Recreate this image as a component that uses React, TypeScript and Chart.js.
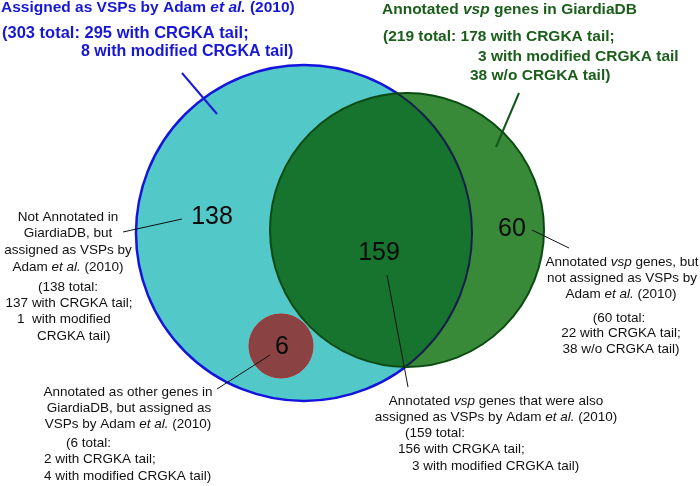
import React, { useEffect, useRef } from 'react';
import { Chart, registerables } from 'chart.js';

Chart.register(...registerables);

// ---------- DATA ----------
const setNames = ['Assigned as VSPs by Adam et al. (2010)', 'Annotated vsp genes in GiardiaDB', 'Annotated as other genes in GiardiaDB'];
const regionNames = ['Adam only', 'Both', 'GiardiaDB only', 'Other genes'];
const regionCounts = [138, 159, 60, 6];

const blueTitleLines = [
  'Assigned as VSPs by Adam *et al.* (2010)',
  '(303 total: 295 with CRGKA tail;',
  '8 with modified CRGKA tail)',
];
const greenTitleLines = [
  'Annotated *vsp* genes in GiardiaDB',
  '(219 total: 178 with CRGKA tail;',
  '3 with modified CRGKA tail',
  '38 w/o CRGKA tail)',
];
const adamOnlyLines = [
  'Not Annotated in',
  'GiardiaDB, but',
  'assigned as VSPs by',
  'Adam *et al.* (2010)',
  '(138 total:',
  '137 with CRGKA tail;',
  '1  with modified',
  'CRGKA tail)',
];
const giardiaOnlyLines = [
  'Annotated *vsp* genes, but',
  'not assigned as VSPs by',
  'Adam *et al.* (2010)',
  '(60 total:',
  '22 with CRGKA tail;',
  '38 w/o CRGKA tail)',
];
const otherGenesLines = [
  'Annotated as other genes in',
  'GiardiaDB, but assigned as',
  'VSPs by Adam *et al.* (2010)',
  '(6 total:',
  '2 with CRGKA tail;',
  '4 with modified CRGKA tail)',
];
const bothLines = [
  'Annotated *vsp* genes that were also',
  'assigned as VSPs by Adam *et al.* (2010)',
  '(159 total:',
  '156 with CRGKA tail;',
  '3 with modified CRGKA tail)',
];

// ---------- LAYOUT (axis units: 0..700 x, 0..486 y) ----------
const circles = [
  { x: 304, y: 233, r: 168 }, // Adam set
  { x: 407, y: 230, r: 137 }, // GiardiaDB set
  { x: 281, y: 346, r: 32 },  // other genes
];
const countPos = [
  { x: 212, y: 217 },
  { x: 379, y: 253 },
  { x: 512, y: 229 },
  { x: 282, y: 347 },
];
type Ln = { x: number; y: number; a: CanvasTextAlign; s?: number };
const blueTitlePos: Ln[] = [
  { x: 1, y: 8, a: 'left' }, { x: 2, y: 33, a: 'left', s: 16.5 }, { x: 81, y: 52, a: 'left', s: 16 },
];
const greenTitlePos: Ln[] = [
  { x: 382, y: 10, a: 'left' }, { x: 383, y: 37, a: 'left' }, { x: 478, y: 57, a: 'left' }, { x: 470, y: 76, a: 'left' },
];
const adamOnlyPos: Ln[] = [
  { x: 68, y: 217, a: 'center' }, { x: 68, y: 233, a: 'center' }, { x: 68, y: 250, a: 'center' }, { x: 68, y: 267, a: 'center' },
  { x: 68, y: 287, a: 'center' }, { x: 69, y: 303, a: 'center' }, { x: 17, y: 319, a: 'left' }, { x: 37, y: 336, a: 'left' },
];
const giardiaOnlyPos: Ln[] = [
  { x: 622, y: 262, a: 'center' }, { x: 622, y: 278, a: 'center' }, { x: 621, y: 294, a: 'center' },
  { x: 619, y: 318, a: 'center' }, { x: 621, y: 333, a: 'center' }, { x: 621, y: 349, a: 'center' },
];
const otherGenesPos: Ln[] = [
  { x: 128, y: 392, a: 'center' }, { x: 129, y: 408, a: 'center' }, { x: 128, y: 424, a: 'center' },
  { x: 66, y: 443, a: 'left' }, { x: 44, y: 459, a: 'left' }, { x: 44, y: 476, a: 'left' },
];
const bothPos: Ln[] = [
  { x: 496, y: 401, a: 'center' }, { x: 496, y: 417, a: 'center' },
  { x: 405, y: 433, a: 'left' }, { x: 398, y: 449, a: 'left' }, { x: 412, y: 466, a: 'left' },
];
const leaders = [
  { x1: 182, y1: 73, x2: 217, y2: 114, c: '#1a1ad8', w: 2 },
  { x1: 519, y1: 93, x2: 496, y2: 147, c: '#13561a', w: 2 },
  { x1: 123, y1: 232, x2: 182, y2: 219, c: '#111', w: 1 },
  { x1: 532, y1: 230, x2: 569, y2: 248, c: '#111', w: 1 },
  { x1: 387, y1: 275, x2: 408, y2: 387, c: '#111', w: 1 },
  { x1: 270, y1: 355, x2: 217, y2: 389, c: '#111', w: 1 },
];

const FONT = '"Liberation Sans", Arial, Helvetica, sans-serif';

function drawRich(ctx: CanvasRenderingContext2D, text: string, px: number, py: number, align: CanvasTextAlign, size: number, bold: boolean, color: string) {
  const segs = text.split('*');
  const fontFor = (i: number) => `${i % 2 === 1 ? 'italic ' : ''}${bold ? 'bold ' : ''}${size}px ${FONT}`;
  let total = 0;
  segs.forEach((s, i) => { ctx.font = fontFor(i); total += ctx.measureText(s).width; });
  let sx = px;
  if (align === 'center') sx = px - total / 2;
  else if (align === 'right') sx = px - total;
  ctx.fillStyle = color;
  ctx.textAlign = 'left';
  ctx.textBaseline = 'middle';
  segs.forEach((s, i) => {
    ctx.font = fontFor(i);
    ctx.fillText(s, sx, py);
    sx += ctx.measureText(s).width;
  });
}

const vennPlugin = {
  id: 'venn',
  beforeDatasetsDraw(chart: any) {
    const { ctx, scales } = chart;
    const xs = scales.x, ys = scales.y;
    const P = (c: { x: number; y: number; r: number }) => ({
      px: xs.getPixelForValue(c.x),
      py: ys.getPixelForValue(c.y),
      pr: Math.abs(xs.getPixelForValue(c.x + c.r) - xs.getPixelForValue(c.x)),
    });
    const path = (c: { px: number; py: number; pr: number }) => {
      ctx.beginPath();
      ctx.arc(c.px, c.py, c.pr, 0, Math.PI * 2);
    };
    const [A, B, C] = circles.map(P);
    ctx.save();
    path(A); ctx.fillStyle = '#52c8c8'; ctx.fill();
    ctx.lineWidth = 2.5; ctx.strokeStyle = '#1414dc'; ctx.stroke();
    path(B); ctx.fillStyle = '#388938'; ctx.fill();
    ctx.save(); path(A); ctx.clip(); path(B); ctx.fillStyle = '#16742e'; ctx.fill(); ctx.restore();
    ctx.save(); path(B); ctx.clip(); path(A); ctx.strokeStyle = '#14204a'; ctx.lineWidth = 2; ctx.stroke(); ctx.restore();
    path(B); ctx.strokeStyle = '#0b4a12'; ctx.lineWidth = 2; ctx.stroke();
    path(C); ctx.fillStyle = '#8b4242'; ctx.fill(); ctx.strokeStyle = '#b52c2c'; ctx.lineWidth = 1; ctx.stroke();
    ctx.restore();
  },
  afterDatasetsDraw(chart: any) {
    const { ctx, scales } = chart;
    const xs = scales.x, ys = scales.y;
    ctx.save();
    leaders.forEach((l) => {
      ctx.beginPath();
      ctx.moveTo(xs.getPixelForValue(l.x1), ys.getPixelForValue(l.y1));
      ctx.lineTo(xs.getPixelForValue(l.x2), ys.getPixelForValue(l.y2));
      ctx.strokeStyle = l.c; ctx.lineWidth = l.w; ctx.stroke();
    });
    regionCounts.forEach((v, i) => {
      drawRich(ctx, String(v), xs.getPixelForValue(countPos[i].x), ys.getPixelForValue(countPos[i].y), 'center', 25, false, '#0a0a0a');
    });
    const block = (lines: string[], pos: Ln[], size: number, bold: boolean, color: string) => {
      lines.forEach((t, i) => drawRich(ctx, t, xs.getPixelForValue(pos[i].x), ys.getPixelForValue(pos[i].y), pos[i].a, pos[i].s ?? size, bold, color));
    };
    block(blueTitleLines, blueTitlePos, 15.5, true, '#1717d6');
    block(greenTitleLines, greenTitlePos, 15.5, true, '#1b5e1b');
    block(adamOnlyLines, adamOnlyPos, 13.5, false, '#111');
    block(giardiaOnlyLines, giardiaOnlyPos, 13.5, false, '#111');
    block(otherGenesLines, otherGenesPos, 13.5, false, '#111');
    block(bothLines, bothPos, 13.5, false, '#111');
    ctx.restore();
  },
};

export default function App() {
  const ref = useRef<HTMLCanvasElement | null>(null);
  useEffect(() => {
    if (!ref.current) return;
    const chart = new Chart(ref.current, {
      type: 'scatter',
      data: {
        datasets: [
          {
            label: setNames.join(' / '),
            data: circles.map((c) => ({ x: c.x, y: c.y })),
            pointRadius: 0,
            pointHoverRadius: 0,
          },
        ],
      },
      options: {
        responsive: false,
        animation: false,
        layout: { padding: 0 },
        events: [],
        plugins: { legend: { display: false }, tooltip: { enabled: false }, title: { display: false } },
        scales: {
          x: { type: 'linear', min: 0, max: 700, display: false },
          y: { type: 'linear', min: 0, max: 486, reverse: true, display: false },
        },
      },
      plugins: [vennPlugin],
    });
    return () => chart.destroy();
  }, []);
  return (
    <div style={{ position: 'absolute', left: 0, top: 0, width: 700, height: 486, background: '#fff' }}>
      <canvas ref={ref} width={700} height={486} style={{ display: 'block' }} aria-label={regionNames.join(', ')} />
    </div>
  );
}
